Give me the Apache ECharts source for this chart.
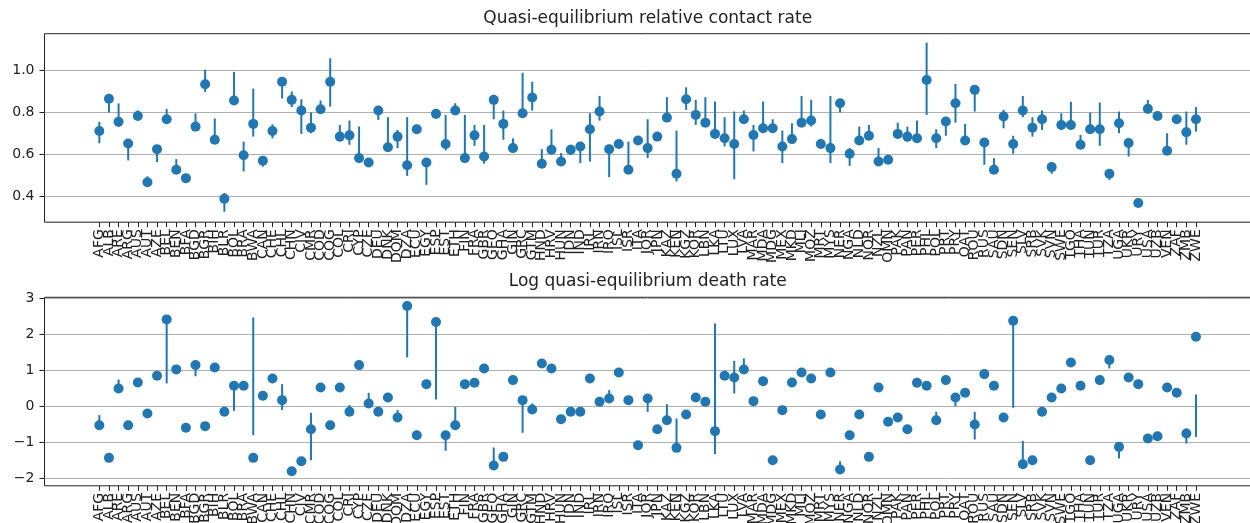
<!DOCTYPE html>
<html>
<head>
<meta charset="utf-8">
<title>Quasi-equilibrium rates</title>
<script src="https://cdn.jsdelivr.net/npm/echarts@6/dist/echarts.min.js"></script>
<style>
  html, body { margin: 0; padding: 0; background: #fff; }
  #mycharts { width: 1250px; height: 523px; }
</style>
</head>
<body>
<div id="mycharts"></div>
<script>
var countries = [
  "AFG", "ALB", "ARE", "ARG", "AUS", "AUT", "AZE", "BEL", "BEN", "BFA",
  "BGD", "BGR", "BIH", "BLR", "BOL", "BRA", "BWA", "CAN", "CHE", "CHL",
  "CHN", "CIV", "CMR", "COD", "COG", "COL", "CRI", "CYP", "CZE", "DEU",
  "DNK", "DOM", "DZA", "ECU", "EGY", "ESP", "EST", "ETH", "FIN", "FRA",
  "GBR", "GEO", "GHA", "GIN", "GRC", "GTM", "HND", "HRV", "HUN", "IDN",
  "IND", "IRL", "IRN", "IRQ", "ISL", "ISR", "ITA", "JOR", "JPN", "KAZ",
  "KEN", "KGZ", "KOR", "LBN", "LKA", "LTU", "LUX", "LVA", "MAR", "MDA",
  "MDG", "MEX", "MKD", "MLI", "MOZ", "MRT", "MYS", "NER", "NGA", "NLD",
  "NOR", "NZL", "OMN", "PAK", "PAN", "PER", "PHL", "POL", "PRT", "PRY",
  "QAT", "ROU", "RUS", "SAU", "SDN", "SEN", "SLV", "SRB", "SVK", "SVN",
  "SWE", "TGO", "THA", "TUN", "TUR", "TZA", "UGA", "UKR", "URY", "USA",
  "UZB", "VEN", "ZAF", "ZMB", "ZWE"
];

// relative contact rate: point, lower end and upper end of the bar
var contactRate = [
  0.711, 0.865, 0.755, 0.651, 0.783, 0.465, 0.624, 0.767, 0.525, 0.485,
  0.732, 0.935, 0.669, 0.386, 0.857, 0.595, 0.745, 0.568, 0.711, 0.947,
  0.86, 0.809, 0.727, 0.815, 0.947, 0.684, 0.69, 0.581, 0.56, 0.809,
  0.633, 0.684, 0.547, 0.719, 0.56, 0.793, 0.649, 0.809, 0.581, 0.69,
  0.589, 0.86, 0.745, 0.629, 0.796, 0.871, 0.554, 0.621, 0.565, 0.621,
  0.637, 0.719, 0.804, 0.624, 0.649, 0.525, 0.665, 0.629, 0.684, 0.775,
  0.506, 0.863, 0.788, 0.751, 0.697, 0.676, 0.649, 0.767, 0.692, 0.724,
  0.724, 0.637, 0.672, 0.751, 0.761, 0.649, 0.629, 0.844, 0.602, 0.665,
  0.688, 0.565, 0.573, 0.697, 0.684, 0.676, 0.955, 0.676, 0.756, 0.844,
  0.665, 0.908, 0.656, 0.525, 0.78, 0.649, 0.809, 0.727, 0.767, 0.538,
  0.74, 0.74, 0.645, 0.719, 0.719, 0.506, 0.748, 0.653, 0.366, 0.817,
  0.783, 0.616, 0.767, 0.705, 0.767
];
var contactLow = [
  0.652, 0.80, 0.73, 0.57, 0.763, 0.446, 0.562, 0.748, 0.51, 0.47,
  0.713, 0.898, 0.668, 0.324, 0.84, 0.517, 0.684, 0.54, 0.676, 0.867,
  0.825, 0.697, 0.70, 0.796, 0.828, 0.66, 0.645, 0.565, 0.541, 0.764,
  0.624, 0.629, 0.496, 0.71, 0.453, 0.772, 0.618, 0.788, 0.565, 0.64,
  0.554, 0.767, 0.669, 0.613, 0.777, 0.809, 0.541, 0.60, 0.549, 0.597,
  0.557, 0.565, 0.761, 0.49, 0.629, 0.509, 0.653, 0.581, 0.67, 0.764,
  0.469, 0.812, 0.74, 0.732, 0.684, 0.637, 0.48, 0.751, 0.613, 0.716,
  0.708, 0.557, 0.653, 0.732, 0.732, 0.629, 0.557, 0.80, 0.544, 0.645,
  0.669, 0.544, 0.554, 0.676, 0.66, 0.656, 0.788, 0.629, 0.688, 0.751,
  0.645, 0.804, 0.549, 0.506, 0.724, 0.602, 0.777, 0.684, 0.716, 0.506,
  0.716, 0.716, 0.629, 0.70, 0.64, 0.477, 0.70, 0.589, 0.36, 0.796,
  0.764, 0.60, 0.748, 0.645, 0.708
];
var contactHigh = [
  0.755, 0.875, 0.843, 0.668, 0.81, 0.494, 0.636, 0.816, 0.576, 0.50,
  0.795, 1.005, 0.771, 0.414, 0.994, 0.66, 0.914, 0.589, 0.743, 0.965,
  0.90, 0.863, 0.80, 0.857, 1.059, 0.74, 0.761, 0.732, 0.58, 0.825,
  0.777, 0.716, 0.777, 0.73, 0.58, 0.815, 0.788, 0.844, 0.788, 0.74,
  0.74, 0.884, 0.809, 0.676, 0.99, 0.947, 0.624, 0.719, 0.605, 0.645,
  0.653, 0.796, 0.879, 0.645, 0.66, 0.66, 0.684, 0.767, 0.70, 0.873,
  0.713, 0.92, 0.86, 0.873, 0.852, 0.777, 0.804, 0.809, 0.74, 0.852,
  0.767, 0.713, 0.748, 0.879, 0.86, 0.669, 0.879, 0.86, 0.629, 0.732,
  0.74, 0.629, 0.597, 0.751, 0.732, 0.761, 1.134, 0.719, 0.777, 0.936,
  0.745, 0.927, 0.676, 0.581, 0.812, 0.688, 0.879, 0.777, 0.809, 0.56,
  0.796, 0.851, 0.692, 0.799, 0.847, 0.528, 0.804, 0.672, 0.372, 0.86,
  0.80, 0.70, 0.787, 0.804, 0.825
];

// log death rate: point, and bar ends (null = no visible bar)
var deathRate = [
  -0.53, -1.435, 0.49, -0.53, 0.657, -0.204, 0.843, 2.407, 1.02, -0.60,
  1.14, -0.555, 1.074, -0.157, 0.565, 0.565, -1.435, 0.287, 0.769, 0.167,
  -1.806, -1.528, -0.639, 0.519, -0.528, 0.519, -0.157, 1.139, 0.074, -0.157,
  0.241, -0.315, 2.778, -0.806, 0.611, 2.333, -0.806, -0.528, 0.611, 0.648,
  1.046, -1.648, -1.407, 0.722, 0.167, -0.093, 1.185, 1.046, -0.361, -0.157,
  -0.157, 0.769, 0.12, 0.213, 0.935, 0.167, -1.083, 0.213, -0.639, -0.389,
  -1.157, -0.231, 0.241, 0.12, -0.694, 0.843, 0.796, 1.019, 0.139, 0.694,
  -1.5, -0.111, 0.657, 0.935, 0.769, -0.231, 0.935, -1.759, -0.806, -0.231,
  -1.407, 0.519, -0.435, -0.315, -0.639, 0.648, 0.565, -0.389, 0.722, 0.241,
  0.37, -0.509, 0.889, 0.565, -0.315, 2.37, -1.611, -1.5, -0.157, 0.241,
  0.491, 1.213, 0.565, -1.5, 0.722, 1.278, -1.13, 0.796, 0.611, -0.898,
  -0.833, 0.519, 0.37, -0.759, 1.926
];
var deathLow = [
  -0.62, -1.5, 0.40, null, null, null, null, 0.63, null, null,
  0.83, null, null, null, -0.13, null, -0.806, null, null, -0.11,
  null, -1.6, -1.5, null, null, null, -0.2, null, -0.02, -0.2,
  null, -0.39, 1.352, null, null, 0.185, -1.24, -0.62, 0.5, null,
  null, -1.73, null, null, -0.74, -0.2, null, null, null, null,
  null, null, null, 0.12, null, null, null, -0.157, null, -0.48,
  -1.27, null, null, null, -1.333, null, 0.352, 0.907, null, null,
  null, null, null, null, null, null, null, -1.83, null, null,
  null, null, null, null, null, null, null, -0.48, null, 0,
  null, -0.926, null, null, null, -0.046, -1.685, null, null, null,
  null, null, null, null, null, 1.046, -1.45, null, null, null,
  -0.9, null, null, -1.037, -0.852
];
var deathHigh = [
  -0.25, -1.3, 0.74, null, null, null, null, 2.407, null, null,
  1.14, null, null, null, 0.565, null, 2.46, null, null, 0.61,
  null, -1.41, -0.185, null, null, null, 0.03, null, 0.37, -0.02,
  null, -0.11, 2.778, null, null, 2.333, -0.806, -0.02, 0.72, null,
  null, -1.148, null, null, 0.167, 0.074, null, null, null, null,
  null, null, null, 0.444, null, null, null, 0.213, null, 0.056,
  -0.343, null, null, null, 2.296, null, 1.259, 1.324, null, null,
  null, null, null, null, null, null, null, -1.528, null, null,
  null, null, null, null, null, null, null, -0.157, null, 0.241,
  null, -0.157, null, null, null, 2.37, -0.963, null, null, null,
  null, null, null, null, null, 1.278, -1.037, null, null, null,
  -0.76, null, null, -0.62, 0.324
];

var contactTicks = [0.4, 0.6, 0.8, 1.0];
var deathTicks = [-2, -1, 0, 1, 2, 3];

var blue = "#1f77b4";
var ink = "#222";
var font = "DejaVu Sans";
var idx = countries.map(function (c, i) { return i; });
// blank labels at both ends so no real label counts as min/max and gets dropped
var labelSlots = [-5].concat(idx, [countries.length + 4]);

function errorBars(params, api) {
  var x = api.value(0);
  var a = api.coord([x, api.value(1)]);
  var b = api.coord([x, api.value(2)]);
  return {
    type: "line",
    shape: { x1: a[0], y1: a[1], x2: b[0], y2: b[1] },
    style: { stroke: blue, lineWidth: 2 }
  };
}

function makeGrid(top) {
  return {
    show: true, borderColor: ink, borderWidth: 1,
    left: 44.5, top: top, width: 1206.3, height: 188.5,
    containLabel: false, outerBoundsMode: "none"
  };
}

function makeX(g) {
  return {
    type: "value", gridIndex: g,
    min: -5.7, max: countries.length - 1 + 5.7,
    axisLine: { show: false, onZero: false },
    axisTick: { customValues: idx, length: 5, lineStyle: { color: ink } },
    axisLabel: {
      customValues: labelSlots, rotate: 90, margin: 7, hideOverlap: false,
      fontSize: 14, fontFamily: font, color: ink,
      formatter: function (v) {
        var i = Math.round(v);
        return i >= 0 && i < countries.length ? countries[i] : "";
      }
    },
    splitLine: { show: false }
  };
}

function makeY(g, min, max, ticks, fmt) {
  return {
    type: "value", gridIndex: g, min: min, max: max,
    axisLine: { show: false, onZero: false },
    axisTick: { customValues: ticks, length: 5, lineStyle: { color: ink } },
    axisLabel: {
      customValues: ticks, margin: 10, fontSize: 14, fontFamily: font, color: ink,
      showMinLabel: true, showMaxLabel: true,
      formatter: fmt
    },
    splitLine: { show: true, lineStyle: { color: "#b0b0b0", width: 1 } }
  };
}

var contactBars = idx.map(function (i) { return [i, contactLow[i], contactHigh[i]]; });
var deathBars = idx.filter(function (i) { return deathLow[i] != null; })
  .map(function (i) { return [i, deathLow[i], deathHigh[i]]; });

var myCharts = echarts.init(document.getElementById("mycharts"));

var option = {
  animation: false,
  backgroundColor: "#fff",
  grid: [makeGrid(33.7), makeGrid(297.3)],
  xAxis: [makeX(0), makeX(1)],
  yAxis: [
    makeY(0, 0.274, 1.177, contactTicks, function (v) { return v.toFixed(1); }),
    makeY(1, -2.21, 3.02, deathTicks, function (v) {
      return v < 0 ? "\u2212" + Math.abs(v) : String(v);
    })
  ],
  graphic: [
    {
      type: "text", x: 647.7, y: 18.4,
      style: { text: "Quasi-equilibrium relative contact rate", font: "17px 'DejaVu Sans'", fill: ink, align: "center", verticalAlign: "middle" }
    },
    {
      type: "text", x: 647.7, y: 282,
      style: { text: "Log quasi-equilibrium death rate", font: "17px 'DejaVu Sans'", fill: ink, align: "center", verticalAlign: "middle" }
    }
  ],
  series: [
    {
      type: "custom", xAxisIndex: 0, yAxisIndex: 0, z: 2,
      renderItem: errorBars, encode: { x: 0, y: [1, 2] }, data: contactBars
    },
    {
      type: "scatter", xAxisIndex: 0, yAxisIndex: 0, z: 3,
      symbolSize: 10, itemStyle: { color: blue, opacity: 1 },
      data: idx.map(function (i) { return [i, contactRate[i]]; })
    },
    {
      type: "custom", xAxisIndex: 1, yAxisIndex: 1, z: 2,
      renderItem: errorBars, encode: { x: 0, y: [1, 2] }, data: deathBars
    },
    {
      type: "scatter", xAxisIndex: 1, yAxisIndex: 1, z: 3,
      symbolSize: 10, itemStyle: { color: blue, opacity: 1 },
      data: idx.map(function (i) { return [i, deathRate[i]]; })
    }
  ]
};

myCharts.setOption(option);
</script>
</body>
</html>
